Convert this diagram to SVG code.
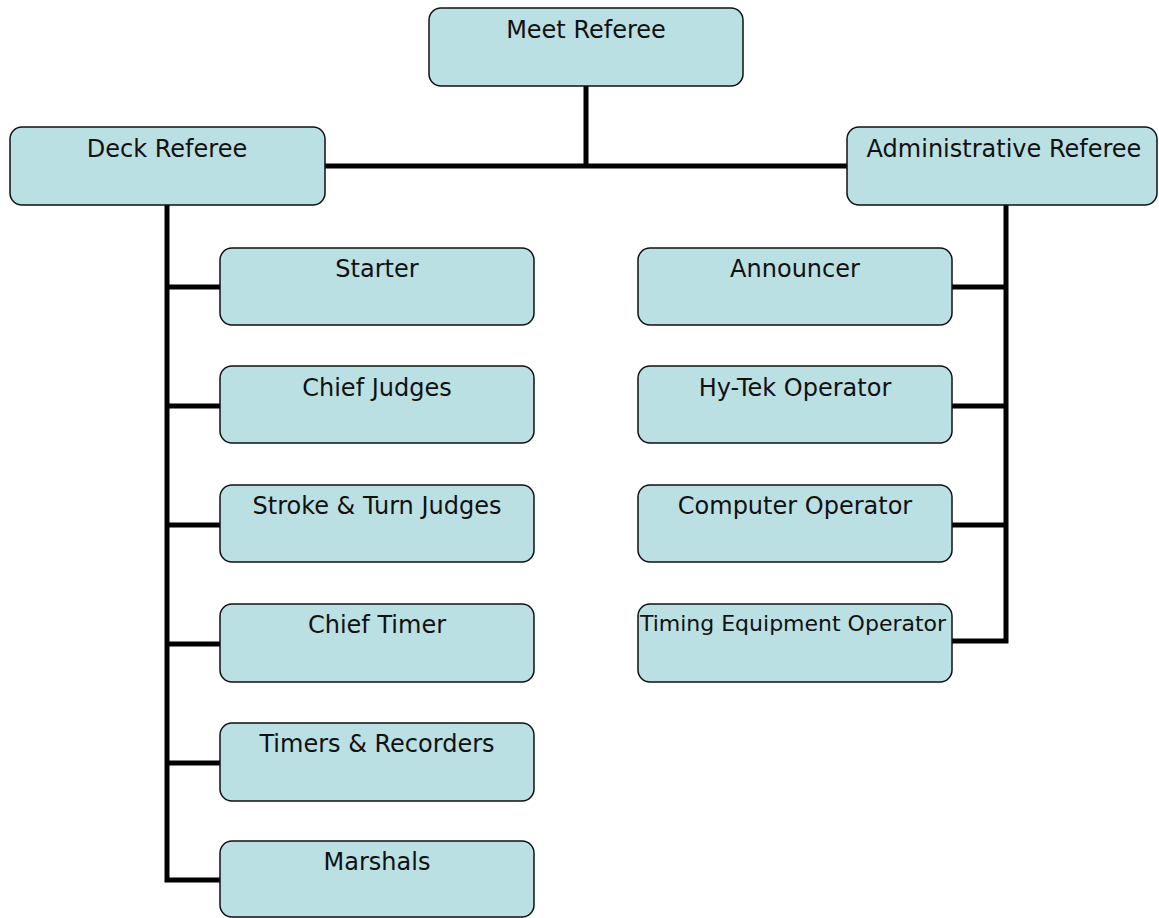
<svg xmlns="http://www.w3.org/2000/svg" width="1159" height="918" viewBox="0 0 1159 918">
<style>
.n rect{fill:#BBE0E3;stroke:#111;stroke-width:1.5}
.n text{font-family:"DejaVu Sans","Verdana",sans-serif;font-size:24px;fill:#111;text-anchor:middle}
.c path{fill:none;stroke:#000;stroke-width:5}
</style>
<rect width="1159" height="918" fill="#fff"/>
<g class="c" id="connectors">
<path d="M586,86 V166 M325,166 H848"/>
<path d="M167,205 V880 H220 M167,287 H220 M167,406 H220 M167,525 H220 M167,644 H220 M167,763 H220"/>
<path d="M1006,205 V641 H952 M1006,287 H952 M1006,406 H952 M1006,525 H952"/>
</g>
<g class="n" id="meet"><rect x="429" y="8" width="314" height="78" rx="12"/><text x="586" y="38">Meet Referee</text></g>
<g class="n" id="deck"><rect x="10" y="127" width="315" height="78" rx="12"/><text x="167" y="157">Deck Referee</text></g>
<g class="n" id="admin"><rect x="847" y="127" width="310" height="78" rx="12"/><text x="1004" y="157">Administrative Referee</text></g>
<g class="n" id="starter"><rect x="220" y="248" width="314" height="77" rx="12"/><text x="377" y="277">Starter</text></g>
<g class="n" id="chief-judges"><rect x="220" y="366" width="314" height="77" rx="12"/><text x="377" y="396">Chief Judges</text></g>
<g class="n" id="stroke-turn"><rect x="220" y="485" width="314" height="77" rx="12"/><text x="377" y="514">Stroke &amp; Turn Judges</text></g>
<g class="n" id="chief-timer"><rect x="220" y="604" width="314" height="78" rx="12"/><text x="377" y="633">Chief Timer</text></g>
<g class="n" id="timers"><rect x="220" y="723" width="314" height="78" rx="12"/><text x="377" y="752">Timers &amp; Recorders</text></g>
<g class="n" id="marshals"><rect x="220" y="841" width="314" height="76" rx="12"/><text x="377" y="870">Marshals</text></g>
<g class="n" id="announcer"><rect x="638" y="248" width="314" height="77" rx="12"/><text x="795" y="277">Announcer</text></g>
<g class="n" id="hytek"><rect x="638" y="366" width="314" height="77" rx="12"/><text x="795" y="396">Hy-Tek Operator</text></g>
<g class="n" id="computer"><rect x="638" y="485" width="314" height="77" rx="12"/><text x="795" y="514">Computer Operator</text></g>
<g class="n" id="timing"><rect x="638" y="604" width="314" height="78" rx="12"/><text x="793" y="631" style="font-size:22px">Timing Equipment Operator</text></g>
</svg>
